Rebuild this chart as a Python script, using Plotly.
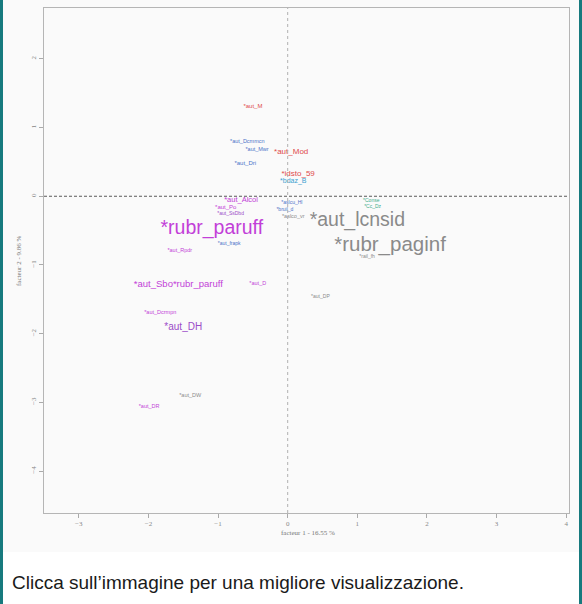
import plotly.graph_objects as go

# Modalities of the correspondence analysis (factor 1 / factor 2 coordinates)
labels = [
    "*aut_M", "*aut_Dcmmcn", "*aut_Mwr", "*aut_Mod", "*aut_Dri", "*idsto_59",
    "*bdaz_B", "*aut_Alcol", "*aut_Po", "*aut_SsDbd", "*rubr_paruff", "*aut_frapk",
    "*aut_Rpdr", "*aslcu_Hl", "*bruil_d", "*aslco_vr", "*aut_lcnsid", "*Conse",
    "*Cc_Dz", "*rubr_paginf", "*rail_fh", "*aut_Sbo*rubr_paruff", "*aut_D",
    "*aut_DP", "*aut_Dcrmpn", "*aut_DH", "*aut_DW", "*aut_DR",
]
fact1 = [
    -0.50, -0.58, -0.44, 0.05, -0.61, 0.15,
    0.08, -0.67, -0.89, -0.82, -1.09, -0.84,
    -1.55, 0.06, -0.04, 0.08, 1.00, 1.20,
    1.22, 1.47, 1.14, -1.57, -0.43,
    0.47, -1.83, -1.50, -1.40, -1.99,
]
fact2 = [
    1.31, 0.79, 0.68, 0.64, 0.48, 0.33,
    0.22, -0.06, -0.16, -0.26, -0.48, -0.69,
    -0.79, -0.10, -0.20, -0.29, -0.365, -0.06,
    -0.15, -0.715, -0.88, -1.28, -1.27,
    -1.46, -1.69, -1.91, -2.90, -3.06,
]
# cluster each modality belongs to
groups = [
    "red", "blue", "blue", "red", "blue", "red",
    "cyan", "magenta", "magenta", "violet", "magenta", "blue",
    "magenta", "blue", "blue", "grey", "grey", "green",
    "green", "grey", "grey", "magenta", "magenta",
    "grey", "magenta", "violet", "grey", "magenta",
]
# label size (proportional to the chi2 of the modality)
weights = [
    6, 5.5, 5.5, 8, 6, 8,
    7, 7.5, 6, 5, 19.5, 5,
    5.5, 5, 5, 5.5, 19.5, 5,
    5, 20.5, 5, 9.5, 5.5,
    5, 5.5, 10, 5.5, 5.5,
]

x_ticks = [-3, -2, -1, 0, 1, 2, 3, 4]
y_ticks = [-4, -3, -2, -1, 0, 1, 2]
x_title = "facteur 1 - 16.55 %"
y_title = "facteur 2 - 9.86 %"
caption = "Clicca sull\u2019immagine per una migliore visualizzazione."

palette = {
    "red": "#e04a4a",
    "blue": "#4a72c8",
    "cyan": "#3a9fd0",
    "magenta": "#c23fd8",
    "violet": "#9a4cc8",
    "grey": "#8a8a8a",
    "green": "#3fae8c",
}

W, H = 582, 604
left, right, top, bottom = 44, 569, 8, 513
x_range = [-3.5, 4.04]
y_range = [-4.61, 2.74]

fig = go.Figure()
fig.add_trace(go.Scatter(
    x=fact1, y=fact2, text=labels, mode="text",
    textposition="middle center",
    textfont=dict(family="Liberation Sans, Arial, sans-serif",
                  size=weights, color=[palette[g] for g in groups]),
    hoverinfo="text", showlegend=False,
))

shapes = [
    # light background of the picture area, teal side borders
    dict(type="rect", xref="paper", yref="paper", x0=0, x1=1,
         y0=1 - 552 / H, y1=1, fillcolor="#fafafa", line_width=0, layer="below"),
    dict(type="rect", xref="paper", yref="paper", x0=0, x1=3 / W, y0=0, y1=1,
         fillcolor="#177a7e", line_width=0),
    dict(type="rect", xref="paper", yref="paper", x0=1 - 3 / W, x1=1, y0=0, y1=1,
         fillcolor="#177a7e", line_width=0),
    # origin lines
    dict(type="line", xref="x", yref="y", x0=0, x1=0, y0=y_range[0], y1=y_range[1],
         line=dict(color="#b0b0b0", width=1, dash="dot")),
    dict(type="line", xref="x", yref="y", x0=x_range[0], x1=x_range[1], y0=0, y1=0,
         line=dict(color="#5a5a5a", width=1, dash="3px,2px")),
]

annotations = [
    dict(text=x_title, xref="paper", yref="paper", x=308 / W, y=1 - 539 / H,
         showarrow=False, font=dict(size=7, color="#777777",
                                    family="Liberation Serif, serif")),
    dict(text=y_title, xref="paper", yref="paper", x=13 / W, y=1 - 261 / H,
         textangle=-90, showarrow=False,
         font=dict(size=7, color="#777777", family="Liberation Serif, serif")),
    dict(text=caption, xref="paper", yref="paper", x=10 / W, y=1 - 582 / H,
         xanchor="left", yanchor="middle", showarrow=False,
         font=dict(size=19, color="#1a1a1a",
                   family="Liberation Sans, Arial, sans-serif")),
]

axis_common = dict(
    showgrid=False, zeroline=False, showline=True, mirror=True,
    linecolor="#b5b5b5", linewidth=1, ticks="outside", ticklen=4,
    tickcolor="#aaaaaa", tickfont=dict(size=7, color="#888888",
                                       family="Liberation Serif, serif"),
)

fig.update_layout(
    width=W, height=H,
    margin=dict(l=0, r=0, t=0, b=0),
    paper_bgcolor="white", plot_bgcolor="rgba(0,0,0,0)",
    xaxis=dict(domain=[left / W, right / W], range=x_range,
               tickvals=x_ticks, **axis_common),
    yaxis=dict(domain=[1 - bottom / H, 1 - top / H], range=y_range,
               tickvals=y_ticks, tickangle=-90, **axis_common),
    shapes=shapes, annotations=annotations,
)

fig.write_html("out.html")
